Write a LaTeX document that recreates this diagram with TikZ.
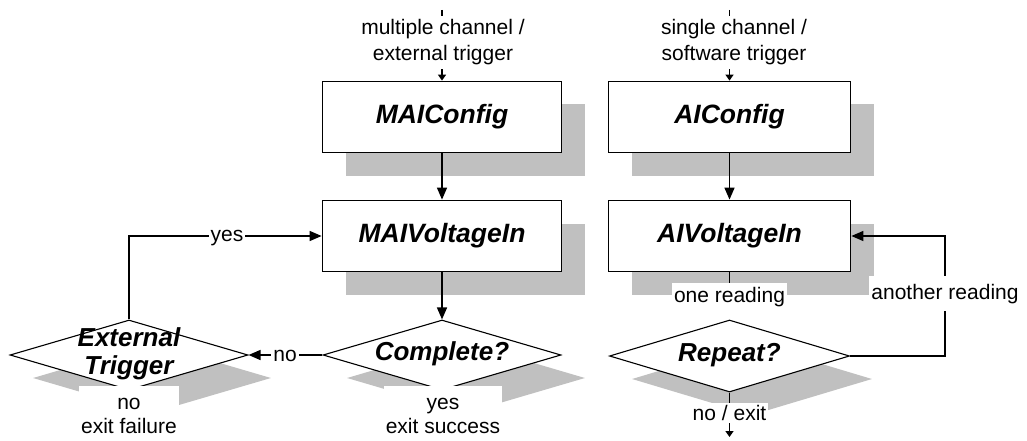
\documentclass[tikz,border=0pt]{standalone}
\usepackage{fontspec}
\setmainfont{Liberation Sans}
\usetikzlibrary{shapes.geometric,arrows.meta}
\definecolor{shade}{RGB}{192,192,192}
\begin{document}
\begin{tikzpicture}[x=1pt,y=-1pt,
 every node/.style={font=\fontsize{21}{24}\selectfont},
 box/.style={draw=black,line width=1.8pt,fill=white,minimum width=239pt,minimum height=71pt,inner sep=0pt,font=\fontsize{26.5}{28}\selectfont\bfseries\itshape},
 sbox/.style={fill=shade,minimum width=239pt,minimum height=71pt,inner sep=0pt},
 dec/.style={diamond,draw=black,line width=1.1pt,fill=white,minimum width=238pt,minimum height=70pt,inner sep=0pt},
 sdec/.style={diamond,fill=shade,minimum width=238pt,minimum height=70pt,inner sep=0pt},
 dtext/.style={font=\fontsize{26}{28}\selectfont\bfseries\itshape,align=center,inner sep=0pt},
 lbl/.style={fill=white,inner xsep=2pt,inner ysep=4pt,align=center,anchor=base},
 conn/.style={line width=1.5pt},
 arr/.style={conn,-{Triangle[length=12pt,width=10pt]}},
 sarr/.style={conn,-{Triangle[length=6pt,width=8pt]}},
]
\useasboundingbox (0,0) rectangle (1027,441);
% shadows
\node[sbox] (s1) at (465.5,140) {};
\node[sbox] (s2) at (465.5,259) {};
\node[sbox,minimum width=242pt] (s3) at (752.5,140) {};
\node[sbox,minimum width=242pt] (s4) at (752.5,259) {};
\node[sdec] (s5) at (466,378) {};
\node[sdec] (s6) at (152,378) {};
\node[sdec,minimum width=240pt,minimum height=72pt] (s7) at (752,379) {};
% boxes
\node[box] (maicfg) at (442,117) {MAIConfig};
\node[box] (maiv) at (442,236) {MAIVoltageIn};
\node[box,minimum width=242pt] (aicfg) at (729.5,117) {AIConfig};
\node[box,minimum width=242pt] (aiv) at (729.5,236) {AIVoltageIn};
% decisions
\node[dec] (complete) at (442,355) {};
\node[dec] (ext) at (129,355) {};
\node[dec,minimum width=240pt,minimum height=72pt] (repeat) at (729.5,356) {};
\node[dtext] (completeT) at (442,354) {Complete?};
\node[dtext] (extT) at (129,354) {External\\Trigger};
\node[dtext] (repeatT) at (729.5,355) {Repeat?};
% left column connectors
\coordinate (inL) at (442,10);
\draw[sarr] (inL) -- (maicfg.north);
\node[lbl,font=\fontsize{21}{26}\selectfont] (lblL) at (443,61) {multiple channel /\\external trigger};
\draw[arr] (maicfg.south) -- (maiv.north);
\draw[arr] (maiv.south) -- (complete.north);
\draw[arr] (complete.west) -- (ext.east);
\node[lbl] (lno) at (285,361) {no};
\draw[arr] (ext.north) |- (maiv.west);
\node[lbl] (lyes) at (227,241) {yes};
\node[lbl,inner ysep=6pt] (lfail) at (129,433) {\strut no\\exit failure};
\node[lbl,inner ysep=6pt] (lsucc) at (443,433) {\strut yes\\exit success};
% right column connectors
\coordinate (inR) at (729.5,10);
\draw[sarr] (inR) -- (aicfg.north);
\node[lbl,font=\fontsize{21}{26}\selectfont] (lblR) at (734,61) {single channel /\\software trigger};
\draw[arr] (aicfg.south) -- (aiv.north);
\draw[conn] (aiv.south) -- (repeat.north);
\node[lbl] (lone) at (729.5,302.7) {one reading\rule[-12pt]{0pt}{12pt}};
\coordinate (loopR) at (945,236);
\draw[arr] (repeat.east) -| (loopR) -- (aiv.east);
\node[lbl,inner ysep=8pt] (lanother) at (945,299) {another reading};
\coordinate (outR) at (729.5,437);
\draw[sarr] (repeat.south) -- (outR);
\node[lbl,inner ysep=2pt] (lexit) at (729.5,420.7) {no / exit};
\end{tikzpicture}
\end{document}
